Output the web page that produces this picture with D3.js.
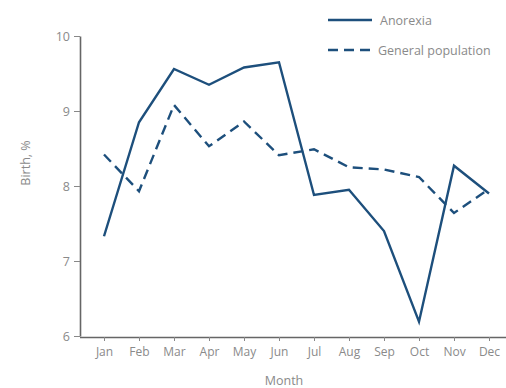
<!DOCTYPE html>
<html><head><meta charset="utf-8">
<script src="https://cdn.jsdelivr.net/npm/d3@7"></script>
<style>body{margin:0;background:#fff}text{font-family:"Open Sans",sans-serif;fill:#8a8a8a}</style>
</head><body><svg id="c" width="506" height="388"></svg>
<script>
const months = ["Jan","Feb","Mar","Apr","May","Jun","Jul","Aug","Sep","Oct","Nov","Dec"];
const anorexia = [7.33,8.85,9.56,9.35,9.58,9.65,7.88,7.95,7.40,6.19,8.27,7.90];
const general = [8.42,7.93,9.08,8.53,8.86,8.41,8.49,8.25,8.22,8.12,7.64,7.96];
const yTicks = [6,7,8,9,10];
const seriesNames = ["Anorexia","General population"];

const svg = d3.select("#c");
const x = d3.scalePoint().domain(months).range([104, 489]);
const y = d3.scaleLinear().domain([6,10]).range([336, 36]);
const color = "#1d4f7c";

// y axis
const yg = svg.append("g").attr("transform","translate(80,0)")
  .call(d3.axisLeft(y).tickValues(yTicks).tickFormat(d3.format("d")).tickSize(6).tickSizeOuter(0).tickPadding(4));
yg.select(".domain").attr("stroke","#666").attr("stroke-width",1.6);
yg.selectAll(".tick line").attr("stroke","#888");
yg.selectAll(".tick text").style("font-size","12.5px").style("fill","#8a8a8a");

// x axis
const xg = svg.append("g").attr("transform","translate(0,337)")
  .call(d3.axisBottom(x).tickSize(4).tickSizeOuter(0).tickPadding(6));
xg.select(".domain").attr("d","M80,0.5H506").attr("stroke","#666").attr("stroke-width",1.6);
xg.selectAll(".tick line").attr("stroke","#888");
xg.selectAll(".tick text").style("font-size","12px").style("fill","#8a8a8a");

svg.append("text").attr("x",284).attr("y",385).attr("text-anchor","middle")
  .style("font-size","12.5px").text("Month");
svg.append("text").attr("transform","translate(30,163) rotate(-90)").attr("text-anchor","middle")
  .style("font-size","12.5px").text("Birth, %");

const line = d3.line().x((d,i)=>x(months[i])).y(d=>y(d));
svg.append("path").datum(general).attr("d",line).attr("fill","none")
  .attr("stroke",color).attr("stroke-width",2.4).attr("stroke-dasharray","10,6");
svg.append("path").datum(anorexia).attr("d",line).attr("fill","none")
  .attr("stroke",color).attr("stroke-width",2.4).attr("stroke-linejoin","miter");

// legend
const lg = svg.append("g");
[0,1].forEach(i=>{
  const yy = 20 + i*30;
  lg.append("line").attr("x1",328).attr("x2",372).attr("y1",yy).attr("y2",yy)
    .attr("stroke",color).attr("stroke-width",2.4)
    .attr("stroke-dasharray", i===1 ? "10,6" : null);
  lg.append("text").attr("x",i===1?378:380).attr("y",yy+4.5).style("font-size","12.5px").text(seriesNames[i]);
});
</script></body></html>
